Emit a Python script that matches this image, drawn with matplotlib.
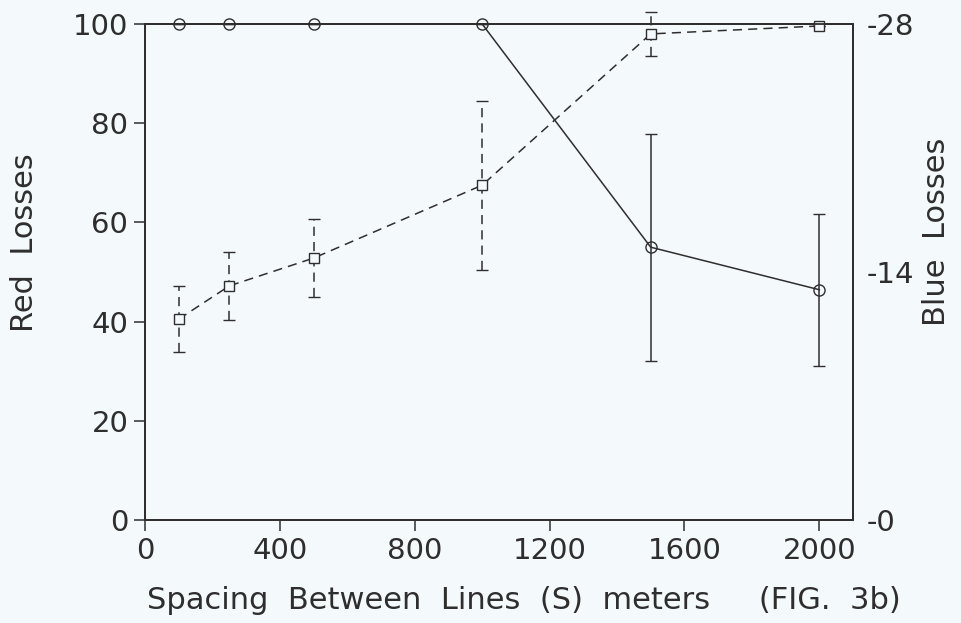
import matplotlib.pyplot as plt
import numpy as np

# spacing between lines (m)
spacing = [100, 250, 500, 1000, 1500, 2000]

# red losses (left axis) with error half-widths
red_losses = [40.5, 47.2, 52.8, 67.5, 98.0, 99.6]
red_err = [6.7, 6.8, 7.8, 17.0, 4.4, 0.0]

# blue losses (right axis) with error half-widths
blue_losses = [28, 28, 28, 28, 15.4, 13.0]
blue_err = [0, 0, 0, 0, 6.4, 4.3]

left_ticks = [0, 20, 40, 60, 80, 100]
right_ticks = [0, 14, 28]
x_ticks = [0, 400, 800, 1200, 1600, 2000]

ink = '#2e2e2e'
paper = '#f4f9fc'

plt.rcParams['font.family'] = ['DejaVu Sans']

fig = plt.figure(figsize=(9.61, 6.23), dpi=100, facecolor=paper)
ax = fig.add_axes([0.1509, 0.1653, 0.7367, 0.7962])
ax.set_facecolor(paper)

# red series - dashed with squares
eb = ax.errorbar(spacing, red_losses, yerr=red_err, color=ink, lw=1.1,
                 ls=(0, (6, 4)), marker='s', ms=7, mfc=paper, mec=ink, mew=1.0,
                 capsize=4, capthick=1.1, elinewidth=1.1, clip_on=False, zorder=3)
for bar in eb[2]:
    bar.set_linestyle((0, (6, 4)))

ax.set_xlim(0, 2100)
ax.set_ylim(0, 100)
ax.set_xticks(x_ticks)
ax.set_yticks(left_ticks)
ax.tick_params(axis='both', direction='out', length=8, width=1.1, colors=ink,
               labelsize=21, pad=4)
for s in ax.spines.values():
    s.set_color(ink)
    s.set_linewidth(1.3)

# blue series - solid with circles on twin axis
ax2 = ax.twinx()
ax2.errorbar(spacing, blue_losses, yerr=blue_err, color=ink, lw=1.1, ls='-',
             marker='o', ms=8, mfc='none', mec=ink, mew=1.0,
             capsize=4, capthick=1.1, elinewidth=1.1, clip_on=False, zorder=3)
ax2.set_ylim(0, 28)
ax2.set_yticks(right_ticks)
ax2.set_yticklabels(['-' + str(t) for t in right_ticks])
ax2.tick_params(axis='y', length=0, colors=ink, labelsize=21, pad=10)
for s in ax2.spines.values():
    s.set_color(ink)
    s.set_linewidth(1.3)

# axis titles placed as figure text
fig.text(0.026, 0.61, 'Red  Losses', rotation=90, ha='center', va='center',
         fontsize=22, color=ink)
fig.text(0.975, 0.628, 'Blue  Losses', rotation=90, ha='center', va='center',
         fontsize=22, color=ink)
fig.text(0.545, 0.036, 'Spacing  Between  Lines  (S)  meters     (FIG.  3b)',
         ha='center', va='center', fontsize=22, color=ink)

fig.savefig('out.png', dpi=100, facecolor=paper)
